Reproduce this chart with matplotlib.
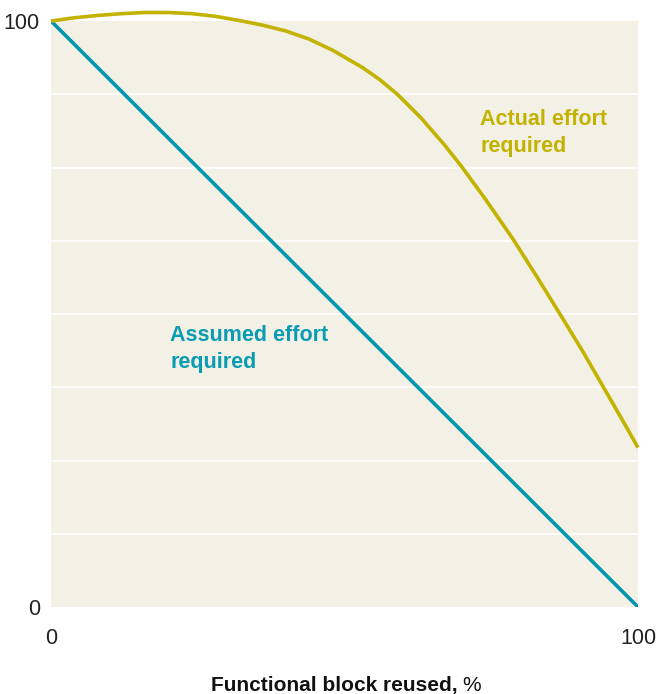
import numpy as np
import matplotlib.pyplot as plt

plt.rcParams['font.family'] = ['Liberation Sans', 'DejaVu Sans']

# % of functional block reused vs effort required
reuse_assumed = [0, 100]
effort_assumed = [100, 0]

reuse_actual = [0, 4, 8, 12, 16, 20, 24, 28, 32, 36, 40, 44, 48, 53, 56, 59,
                63, 67, 70, 74, 78.7, 83, 86.7, 90.6, 94, 97.4, 100]
effort_actual = [100, 100.55, 100.95, 101.25, 101.45, 101.45, 101.25, 100.8,
                 100.1, 99.3, 98.3, 96.9, 95.0, 92.1, 90.0, 87.5, 83.5, 78.9,
                 75.1, 69.6, 62.8, 56.0, 50.0, 43.6, 37.7, 31.8, 27.2]

grid_levels = [12.5, 25, 37.5, 50, 62.5, 75, 87.5]

yellow = '#c3b300'
teal = '#0096ad'
bg = '#f3f0e6'

fig = plt.figure(figsize=(6.58, 6.94), dpi=100)
ax = fig.add_axes([51 / 658, 1 - 607 / 694, 587 / 658, 586 / 694])
ax.set_facecolor(bg)
for s in ax.spines.values():
    s.set_visible(False)

for g in grid_levels:
    ax.axhline(g, color='white', lw=1.1, zorder=1)

ax.plot(reuse_assumed, effort_assumed, color=teal, lw=2.6, zorder=3,
        solid_capstyle='butt')
ax.plot(reuse_actual, effort_actual, color=yellow, lw=2.6, zorder=3,
        clip_on=False, solid_capstyle='butt', solid_joinstyle='round')

ax.set_xlim(0, 100)
ax.set_ylim(0, 100)
ax.set_xticks([0, 100])
ax.set_yticks([0, 100])
ax.set_xticklabels(['0', '100'])
ax.set_yticklabels(['0', '100'])
ax.tick_params(length=0, labelsize=15.5, colors='#222222')
ax.tick_params(axis='x', pad=15)
ax.tick_params(axis='y', pad=8)

ax.text(73.1, 80.9, 'Actual effort\nrequired', color=yellow, fontsize=15.5,
        fontweight='bold', ha='left', va='center', linespacing=1.35)
ax.text(20.3, 44.0, 'Assumed effort\nrequired', color='#0a9cb2', fontsize=15.5,
        fontweight='bold', ha='left', va='center', linespacing=1.35)

fig.text(458 / 658, 1 - 691 / 694, 'Functional block reused,', fontsize=15,
         fontweight='bold', ha='right', va='baseline', color='#111111')
fig.text(462 / 658, 1 - 691 / 694, '%', fontsize=15,
         ha='left', va='baseline', color='#111111')

fig.savefig('out.png', dpi=100)
